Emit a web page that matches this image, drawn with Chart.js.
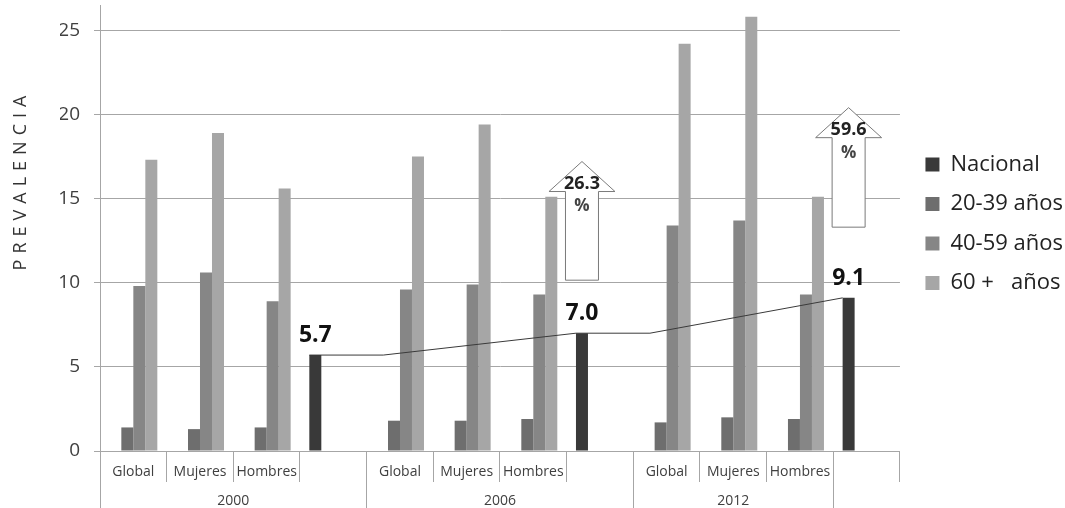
<!DOCTYPE html>
<html>
<head>
<meta charset="utf-8">
<script src="https://cdn.jsdelivr.net/npm/chart.js@4.4.1/dist/chart.umd.min.js"></script>
<style>
  html, body { margin: 0; padding: 0; background: #ffffff; }
  #wrap { width: 1065px; height: 508px; position: relative; }
</style>
</head>
<body>
<div id="wrap"><canvas id="chart" width="1065" height="508"></canvas></div>
<script>
// ---- data -------------------------------------------------------------
const years = ['2000', '2006', '2012'];
const yearFirst = [0, 4, 8];
const yearLast = [3, 7, 10];

const categories = ['Global', 'Mujeres', 'Hombres', '',
                    'Global', 'Mujeres', 'Hombres', '',
                    'Global', 'Mujeres', 'Hombres', ''];

const nacional = [null, null, null, 5.7, null, null, null, 7.0, null, null, null, 9.1];
const age20to39 = [1.4, 1.3, 1.4, null, 1.8, 1.8, 1.9, null, 1.7, 2.0, 1.9, null];
const age40to59 = [9.8, 10.6, 8.9, null, 9.6, 9.9, 9.3, null, 13.4, 13.7, 9.3, null];
const age60plus = [17.3, 18.9, 15.6, null, 17.5, 19.4, 15.1, null, 24.2, 25.8, 15.1, null];

const seriesNames = ['Nacional', '20-39 años', '40-59 años', '60 +   años'];
const yTickValues = [0, 5, 10, 15, 20, 25];

// growth of the national prevalence, written inside the arrows
const growthCategory = [7, 11];
const growthText = ['26.3', '59.6'];

// ---- styling ----------------------------------------------------------
const FONT = "'Open Sans', 'DejaVu Sans', sans-serif";
const GRID = '#a6a6a6';
const colors = ['#393939', '#6e6e6e', '#868686', '#a6a6a6'];
const CAT_PCT = 0.72;

Chart.defaults.font.family = FONT;
Chart.defaults.color = '#404040';

// trend line joining the national bars: it starts at each bar top, runs flat
// across the next category and then climbs to the following bar
const trendPoints = [];
const natIdx = nacional.map((v, i) => (v == null ? -1 : i)).filter(i => i >= 0);
natIdx.forEach((i, k) => {
  const barLeft = i - 0.5 + (1 - CAT_PCT) / 2;
  trendPoints.push({ x: barLeft, y: nacional[i] });
  if (k < natIdx.length - 1) trendPoints.push({ x: i + 0.75, y: nacional[i] });
});

// ticks of the year row: group borders (lines) and group centres (labels)
const yearBorders = [];
const yearCentres = {};
years.forEach((yr, k) => {
  yearBorders.push(yearFirst[k] - 0.5);
  yearCentres[(yearFirst[k] + yearLast[k]) / 2] = yr;
});
yearBorders.push(yearLast[yearLast.length - 1] + 0.5);
const yearTickValues = [...yearBorders, ...Object.keys(yearCentres).map(Number)].sort((a, b) => a - b);

// ---- plugins ----------------------------------------------------------
const axisTitle = {
  id: 'axisTitle',
  afterDraw(chart, args, opts) {
    const { ctx } = chart;
    ctx.save();
    ctx.translate(opts.x, opts.y);
    ctx.rotate(-Math.PI / 2);
    ctx.font = `18px ${FONT}`;
    ctx.fillStyle = '#333333';
    ctx.textAlign = 'center';
    ctx.textBaseline = 'middle';
    if ('letterSpacing' in ctx) ctx.letterSpacing = '6px';
    ctx.fillText(opts.text, 3, 0);
    ctx.restore();
  }
};

const barValues = {
  id: 'barValues',
  afterDatasetsDraw(chart) {
    const { ctx } = chart;
    const meta = chart.getDatasetMeta(0);
    ctx.save();
    ctx.font = `bold 23px ${FONT}`;
    ctx.fillStyle = '#111111';
    ctx.textAlign = 'center';
    ctx.textBaseline = 'alphabetic';
    meta.data.forEach((el, i) => {
      const v = nacional[i];
      if (v == null) return;
      ctx.fillText(v.toFixed(1), el.x, el.y - 13);
    });
    ctx.restore();
  }
};

const growthArrows = {
  id: 'growthArrows',
  afterDatasetsDraw(chart, args, opts) {
    const { ctx } = chart;
    const yScale = chart.scales.y;
    const meta = chart.getDatasetMeta(0);
    ctx.save();
    opts.spans.forEach((span, k) => {
      const el = meta.data[growthCategory[k]];
      const cx = el.x;
      const yb = yScale.getPixelForValue(span[0]);
      const yt = yScale.getPixelForValue(span[1]);
      const hh = 30, hw = 33, sw = 16.5;
      ctx.beginPath();
      ctx.moveTo(cx - sw, yb);
      ctx.lineTo(cx - sw, yt + hh);
      ctx.lineTo(cx - hw, yt + hh);
      ctx.lineTo(cx, yt);
      ctx.lineTo(cx + hw, yt + hh);
      ctx.lineTo(cx + sw, yt + hh);
      ctx.lineTo(cx + sw, yb);
      ctx.closePath();
      ctx.fillStyle = '#ffffff';
      ctx.fill();
      ctx.strokeStyle = '#7a7a7a';
      ctx.lineWidth = 1;
      ctx.stroke();
      ctx.fillStyle = '#222222';
      ctx.textAlign = 'center';
      ctx.textBaseline = 'middle';
      ctx.font = `bold 18px ${FONT}`;
      ctx.fillText(growthText[k], cx, yt + 22);
      ctx.font = `bold 17px ${FONT}`;
      ctx.fillStyle = '#444444';
      ctx.fillText('%', cx, yt + 45);
    });
    ctx.restore();
  }
};

// ---- chart ------------------------------------------------------------
const barSeries = [nacional, age20to39, age40to59, age60plus];

new Chart(document.getElementById('chart'), {
  type: 'bar',
  data: {
    labels: categories,
    datasets: [
      ...barSeries.map((vals, k) => ({
        label: seriesNames[k],
        data: vals,
        backgroundColor: colors[k],
        borderWidth: 0,
        categoryPercentage: CAT_PCT,
        barPercentage: 1.0,
        xAxisID: 'x',
        yAxisID: 'y'
      })),
      {
        type: 'line',
        label: 'tendencia',
        data: trendPoints,
        parsing: false,
        xAxisID: 'x',
        yAxisID: 'y',
        borderColor: '#3a3a3a',
        borderWidth: 1,
        pointRadius: 0,
        tension: 0,
        fill: false,
        order: -1
      }
    ]
  },
  options: {
    responsive: false,
    animation: false,
    events: [],
    layout: { padding: { left: 60, top: 5, right: -8, bottom: 0 } },
    scales: {
      y: {
        min: 0,
        max: 26.5,
        position: 'left',
        afterBuildTicks: s => { s.ticks = yTickValues.map(v => ({ value: v })); },
        afterFit: s => { s.width = 40; s.paddingTop = 0; s.paddingBottom = 0; },
        ticks: { padding: 14, font: { size: 19 }, color: '#404040' },
        grid: { color: GRID, lineWidth: 1, tickLength: 6 },
        border: { color: GRID, width: 1 }
      },
      yGap: {
        position: 'right',
        display: true,
        ticks: { display: false },
        grid: { display: false },
        border: { display: false },
        afterFit: s => { s.width = 8; s.paddingTop = 0; s.paddingBottom = 0; }
      },
      x: {
        type: 'category',
        position: 'bottom',
        offset: true,
        afterFit: s => { s.height = 29; },
        ticks: { autoSkip: false, maxRotation: 0, padding: -18, font: { size: 14 }, color: '#404040' },
        grid: { offset: true, drawOnChartArea: false, tickLength: 31, color: GRID, lineWidth: 1 },
        border: { color: GRID, width: 1 }
      },
      xYear: {
        type: 'linear',
        position: 'bottom',
        min: -0.5,
        max: 11.5,
        offset: false,
        bounds: 'data',
        afterBuildTicks: s => { s.ticks = yearTickValues.map(v => ({ value: v })); },
        afterFit: s => { s.height = 28; },
        ticks: {
          autoSkip: false,
          maxRotation: 0,
          padding: -15,
          font: { size: 14 },
          color: '#404040',
          callback: v => (yearCentres[v] !== undefined ? yearCentres[v] : '')
        },
        grid: {
          offset: false,
          drawOnChartArea: false,
          tickLength: 28,
          lineWidth: 1,
          color: c => (c.tick && yearBorders.includes(c.tick.value) ? GRID : 'rgba(0,0,0,0)')
        },
        border: { display: false }
      }
    },
    plugins: {
      tooltip: { enabled: false },
      title: { display: false },
      legend: {
        position: 'right',
        align: 'start',
        title: { display: true, text: ' ', font: { size: 1, lineHeight: 1 }, padding: { top: 130, bottom: 0 } },
        labels: {
          boxWidth: 14,
          boxHeight: 14,
          padding: 17.5,
          color: '#222222',
          font: { size: 22 },
          filter: item => item.datasetIndex < 4
        }
      },
      axisTitle: { text: 'PREVALENCIA', x: 21, y: 183 },
      growthArrows: { spans: [[10.15, 17.2], [13.3, 20.4]] }
    }
  },
  plugins: [axisTitle, barValues, growthArrows]
});
</script>
</body>
</html>
